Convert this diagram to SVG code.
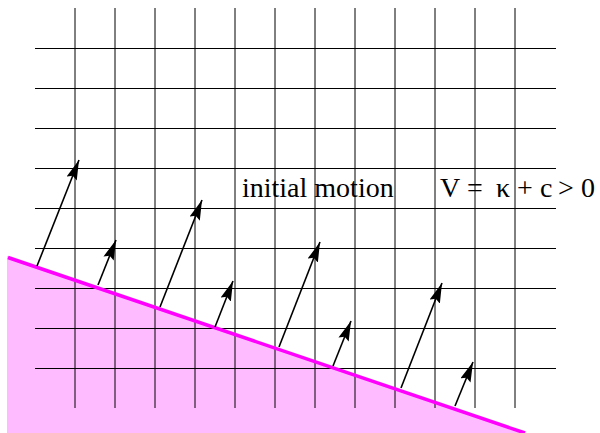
<svg xmlns="http://www.w3.org/2000/svg" width="600" height="433" viewBox="0 0 600 433">
  <style>
    .grid line { stroke: #000; stroke-width: 1; }
    .arrow { stroke: #000; stroke-width: 1.6; fill: none; marker-end: url(#head); }
    .lbl { font-family: "Liberation Serif", "Times New Roman", serif; font-size: 28px; fill: #000; }
  </style>
  <defs>
    <marker id="head" markerUnits="userSpaceOnUse" viewBox="0 0 20 11" refX="20" refY="5.5" markerWidth="20" markerHeight="11" orient="auto">
      <path d="M0,0 L20,5.5 L0,11 L3,5.5 z" fill="#000"/>
    </marker>
  </defs>
  <rect width="600" height="433" fill="#fff"/>
  <g id="region">
    <polygon points="7,256 525,433 7,433" fill="#ffbbff"/>
  </g>
  <g id="grid" class="grid">
    <line x1="35" y1="48.5" x2="556" y2="48.5"/>
    <line x1="35" y1="88.5" x2="556" y2="88.5"/>
    <line x1="35" y1="128.5" x2="556" y2="128.5"/>
    <line x1="35" y1="168.5" x2="556" y2="168.5"/>
    <line x1="35" y1="208.5" x2="556" y2="208.5"/>
    <line x1="35" y1="248.5" x2="556" y2="248.5"/>
    <line x1="35" y1="288.5" x2="556" y2="288.5"/>
    <line x1="35" y1="328.5" x2="556" y2="328.5"/>
    <line x1="35" y1="368.5" x2="556" y2="368.5"/>
    <line x1="75" y1="8" x2="75" y2="408"/>
    <line x1="115" y1="8" x2="115" y2="408"/>
    <line x1="155" y1="8" x2="155" y2="408"/>
    <line x1="195" y1="8" x2="195" y2="408"/>
    <line x1="235" y1="8" x2="235" y2="408"/>
    <line x1="275" y1="8" x2="275" y2="408"/>
    <line x1="315" y1="8" x2="315" y2="408"/>
    <line x1="355" y1="8" x2="355" y2="408"/>
    <line x1="395" y1="8" x2="395" y2="408"/>
    <line x1="435" y1="8" x2="435" y2="408"/>
    <line x1="475" y1="8" x2="475" y2="408"/>
    <line x1="515" y1="8" x2="515" y2="408"/>
  </g>
  <g id="front">
    <line x1="8" y1="257.5" x2="525" y2="433" stroke="#ff00ff" stroke-width="3.5"/>
  </g>
  <g id="connectors">
    <line class="arrow" x1="37" y1="266" x2="79" y2="160"/>
    <line class="arrow" x1="98" y1="285" x2="116" y2="240"/>
    <line class="arrow" x1="160" y1="307" x2="202" y2="200"/>
    <line class="arrow" x1="215" y1="327" x2="233" y2="281"/>
    <line class="arrow" x1="279" y1="347" x2="320" y2="242"/>
    <line class="arrow" x1="333" y1="366" x2="351" y2="321"/>
    <line class="arrow" x1="401" y1="388" x2="442" y2="283"/>
    <line class="arrow" x1="455" y1="406" x2="473" y2="362"/>
  </g>
  <g id="label-motion">
    <text class="lbl" x="242" y="197">initial motion</text>
  </g>
  <g id="label-velocity">
    <text class="lbl" y="197"><tspan x="440">V</tspan><tspan x="467">=</tspan><tspan x="496">κ</tspan><tspan x="517">+</tspan><tspan x="540">c</tspan><tspan x="558">&gt;</tspan><tspan x="581">0</tspan></text>
  </g>
</svg>
